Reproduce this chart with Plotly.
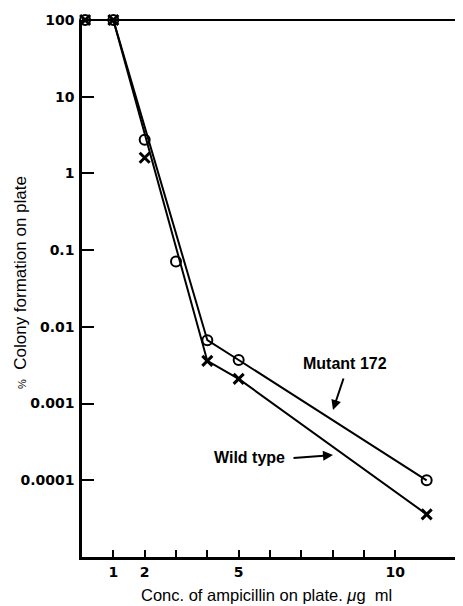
import plotly.graph_objects as go

# Data points
conc = [0.1, 1, 2, 3, 4, 5, 11]
mutant_172 = [100, 100, 2.75, 0.071, 0.0067, 0.0037, 0.0001]
wild_conc = [0.1, 1, 2, 4, 5, 11]
wild_type = [100, 100, 1.6, 0.0036, 0.0021, 0.000036]

# Hand-drawn curve vertices (the curves skip the x=2 and x=3 points)
mutant_curve_x = [0.1, 1, 4, 5, 11]
mutant_curve_y = [100, 100, 0.0067, 0.0037, 0.0001]
wild_curve_x = [0.1, 1, 4, 5, 11]
wild_curve_y = [100, 100, 0.0036, 0.0021, 0.000036]

y_tickvals = [0.0001, 0.001, 0.01, 0.1, 1, 10, 100]
y_ticktext = ["0.0001", "0.001", "0.01", "0.1", "1", "10", "100"]
x_tickvals = [1, 2, 3, 4, 5, 6, 7, 8, 9, 10]
x_ticktext = ["1", "2", "", "", "5", "", "", "", "", "10"]

fig = go.Figure()
fig.add_trace(go.Scatter(
    x=mutant_curve_x, y=mutant_curve_y, mode="lines", name="Mutant 172 curve",
    line=dict(color="black", width=2), cliponaxis=False))
fig.add_trace(go.Scatter(
    x=wild_curve_x, y=wild_curve_y, mode="lines", name="Wild type curve",
    line=dict(color="black", width=2), cliponaxis=False))
fig.add_trace(go.Scatter(
    x=conc, y=mutant_172, mode="markers", name="Mutant 172",
    marker=dict(symbol="circle-open", size=10, color="black", line=dict(width=2)),
    cliponaxis=False))
fig.add_trace(go.Scatter(
    x=wild_conc, y=wild_type, mode="markers", name="Wild type",
    marker=dict(symbol="x-thin", size=10, color="black", line=dict(width=3, color="black")),
    cliponaxis=False))

tickfont = dict(family="DejaVu Sans", size=14, color="black", weight=700)

# page body has an 8px margin, so the figure is drawn 8px smaller
fig.update_layout(
    width=455, height=598,
    margin=dict(l=74, r=5, t=12, b=49),
    plot_bgcolor="white", paper_bgcolor="white",
    showlegend=False,
    xaxis=dict(range=[0, 12], showline=True, linecolor="black", linewidth=2.5,
               showgrid=False, zeroline=False, ticks="inside", ticklen=7,
               tickwidth=2, tickcolor="black", tickvals=x_tickvals,
               ticktext=x_ticktext, tickfont=tickfont, ticklabelstandoff=0),
    yaxis=dict(type="log", range=[-5, 2], showline=True, linecolor="black",
               linewidth=2.5, showgrid=False, zeroline=False, ticks="inside",
               ticklen=12, tickwidth=2, tickcolor="black", tickvals=y_tickvals,
               ticktext=y_ticktext, tickfont=tickfont, ticklabelstandoff=2),
    shapes=[
        dict(type="line", xref="paper", yref="paper", x0=0, x1=1.0106, y0=1, y1=1,
             line=dict(color="black", width=1.8)),
        dict(type="line", xref="paper", yref="paper", x0=1, x1=1, y0=0, y1=1,
             line=dict(color="black", width=1.5)),
    ],
    annotations=[
        dict(text="Conc. of ampicillin on plate. <i>μ</i>g  ml", xref="paper", yref="paper",
             x=(266 - 82) / 376, y=(557 - 595) / 537, xanchor="center", yanchor="middle",
             showarrow=False,
             font=dict(family="Liberation Sans", size=16.5, color="black")),
        dict(text="<span style='font-size:11px'>%</span>  Colony formation on plate",
             xref="paper", yref="paper", textangle=-90,
             x=(20 - 82) / 376, y=(557 - 283) / 537, xanchor="center", yanchor="middle",
             showarrow=False,
             font=dict(family="Liberation Sans", size=17, color="black")),
        dict(text="Mutant 172", xref="paper", yref="paper", xanchor="center", yanchor="middle",
             x=(345 - 82) / 376, y=(557 - 363) / 537, showarrow=False,
             font=dict(family="Liberation Sans", size=16, color="black", weight=700)),
        dict(text="", xref="paper", yref="paper",
             x=(333 - 82) / 376, y=(557 - 410) / 537, ax=11, ay=-33,
             showarrow=True, arrowhead=2, arrowsize=1, arrowwidth=2, arrowcolor="black"),
        dict(text="Wild type", xref="paper", yref="paper", xanchor="center", yanchor="middle",
             x=(249 - 82) / 376, y=(557 - 457) / 537, showarrow=False,
             font=dict(family="Liberation Sans", size=16, color="black", weight=700)),
        dict(text="", xref="paper", yref="paper",
             x=(333 - 82) / 376, y=(557 - 455) / 537, ax=-41, ay=3,
             showarrow=True, arrowhead=2, arrowsize=1, arrowwidth=2, arrowcolor="black"),
    ],
)

fig.write_html("out.html")
